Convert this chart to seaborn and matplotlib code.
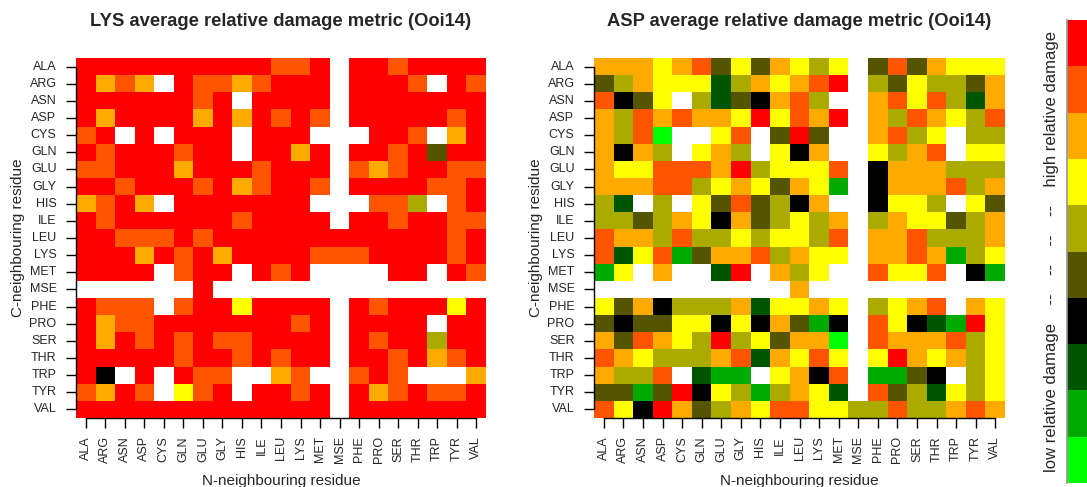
import numpy as np
import pandas as pd
import matplotlib
matplotlib.use("Agg")
import matplotlib.pyplot as plt
import seaborn as sns
from matplotlib.colors import ListedColormap

residues = ["ALA", "ARG", "ASN", "ASP", "CYS", "GLN", "GLU", "GLY", "HIS", "ILE", "LEU",
            "LYS", "MET", "MSE", "PHE", "PRO", "SER", "THR", "TRP", "TYR", "VAL"]

# damage levels, low -> high (B=0 ... R=9); "." = no data
level_codes = "BMGKDLYAOR"
level_colors = ["#00FF00", "#00AA00", "#005500", "#000000", "#555500",
                "#AAAA00", "#FFFF00", "#FFAA00", "#FF5500", "#FF0000"]

# rows = C-neighbouring residue, columns = N-neighbouring residue
lys_rows = [
    "R R R R R R R R R R O O R . R R O R R R R",  # ALA
    "R A O A . R O O A O R R R . R R R O . R O",  # ARG
    "R R R R R R O R . R R R R . R R R R R R R",  # ASN
    "R A R R R R A R A R O R O . R R R R R O R",  # ASP
    "O R . R . R R R . R R R . . . R R O . A R",  # CYS
    "R O R R R O R R . R R A R . R R O R D R R",  # GLN
    "O O R R R A R R R O R R R . O A O R R O O",  # GLU
    "R R O R R R O R A O R R O . R R R R O O R",  # GLY
    "A O R A . R R R R R R R . . . O O L . O R",  # HIS
    "R O R R R R R R O R R R R . R R O R R O O",  # ILE
    "R R O O O R O R R R R R R R R R R R R O R",  # LEU
    "R R R A R O R A R R R R O O O R R R R O R",  # LYS
    "R R R R . O R R . R O R . . . . R R . R O",  # MET
    ". . . . . . R . . . . . . . . . . . . . .",  # MSE
    "R O O O . O R R Y R R R R . R O R R R Y R",  # PHE
    "R A O O R R R R R R R O R . R R R R . R R",  # PRO
    "R A R O R O R O O R R R R . R O R R L R R",  # SER
    "R R R R R O R R O R O R R . R R O R A O R",  # THR
    "R K . R . R O O . . A O . . O R O . . . A",  # TRP
    "O A R O . Y O R . R R O R . R A O R O O R",  # TYR
    "R R R R R R R R R R R R R . R R R R R R R",  # VAL
]

asp_rows = [
    "A A A Y A O D Y D A Y L Y . D O D A Y Y Y",  # ALA
    "D L A Y Y Y G L A Y A O R . L D Y L L D A",  # ARG
    "O K D Y . L G D K A O L . . A O Y O L G A",  # ASN
    "A L O A O A A Y R Y O A R . A L O A Y L O",  # ASP
    "A L O B . . Y O . D R D . . A O L Y . L L",  # CYS
    "A K A L . Y A L . Y K A . . Y L A O . Y Y",  # GLN
    "A Y Y O O O A R L Y Y Y O . K A A A L L L",  # GLU
    "A A A O O L Y A Y D A Y M . K A A A O L A",  # GLY
    "L G . L . Y D O D L K A . . K Y Y L . Y D",  # HIS
    "L L D L A Y K A D L Y L A . L A Y Y D L A",  # ILE
    "O A A L O L L Y L Y Y L O . A A O L L L A",  # LEU
    "O G Y O M D A A O L A Y Y . A A O A M L Y",  # LYS
    "M Y . A . . G R . A L Y . . O Y Y O . K M",  # MET
    ". . . . . . . . . . A . . . . . . . . . .",  # MSE
    "Y D A K L L L A G Y Y A Y . L Y A O . A Y",  # PHE
    "D K D D Y Y K Y K A D M K . O Y K G M R Y",  # PRO
    "A D O A Y L R L Y D A A B . O A A A O L Y",  # SER
    "O A Y L L L A O G A Y O Y . Y R A Y A L Y",  # THR
    "A L L O . G M M . Y A K O . M M D K . L Y",  # TRP
    "D D M D R K Y L M L A Y G . O D L G Y L Y",  # TYR
    "O Y K R A D L A Y O O Y Y L L O L L A O A",  # VAL
]

titles = ["LYS average relative damage metric (Ooi14)",
          "ASP average relative damage metric (Ooi14)"]
x_label = "N-neighbouring residue"
y_label = "C-neighbouring residue"
cbar_label = "low relative damage    --    --    --    --    high relative damage"


def to_frame(rows):
    data = [[np.nan if c == "." else float(level_codes.index(c)) for c in r.split()] for r in rows]
    return pd.DataFrame(data, index=residues, columns=residues)


sns.set_theme(style="white")
plt.rcParams["font.family"] = ["Liberation Sans", "DejaVu Sans"]

W, H = 1087, 487
fig = plt.figure(figsize=(W / 100, H / 100), dpi=100)
cmap = ListedColormap(level_colors)

ax_positions = [(76, 58, 410, 360), (594, 58, 411, 360)]
cax = fig.add_axes([1067 / W, 1 - 483 / H, 20 / W, 463 / H])

for i, (rows, title, (x0, y0, w, h)) in enumerate(zip([lys_rows, asp_rows], titles, ax_positions)):
    ax = fig.add_axes([x0 / W, 1 - (y0 + h) / H, w / W, h / H])
    df = to_frame(rows)
    kw = dict(cbar=False)
    if i == 1:
        kw = dict(cbar=True, cbar_ax=cax, cbar_kws=dict(ticks=[]))
    sns.heatmap(df, ax=ax, cmap=cmap, vmin=-0.5, vmax=9.5,
                xticklabels=True, yticklabels=True, **kw)
    ax.set_title(title, fontsize=13.2, fontweight="bold", pad=23)
    ax.set_xlabel(x_label, fontsize=11, labelpad=8)
    ax.set_ylabel(y_label, fontsize=11, labelpad=3)
    for s in ["left", "bottom"]:
        ax.spines[s].set_visible(True)
        ax.spines[s].set_color("black")
        ax.spines[s].set_linewidth(1.0)
        ax.spines[s].set_bounds(0.5, 20.5)
    for s in ["top", "right"]:
        ax.spines[s].set_visible(False)
    ax.tick_params(axis="both", which="both", length=7, width=1, color="black",
                   labelsize=9, left=True, bottom=True)
    ax.tick_params(axis="y", pad=7)
    ax.tick_params(axis="x", pad=6)
    plt.setp(ax.get_xticklabels(), rotation=90)
    plt.setp(ax.get_yticklabels(), rotation=0)

for s in cax.spines.values():
    s.set_visible(False)
cax.spines["left"].set_visible(True)
cax.spines["left"].set_color("#999999")
cax.yaxis.set_label_position("left")
cax.set_ylabel(cbar_label, fontsize=12, labelpad=6)

fig.savefig("out.png", dpi=100)
